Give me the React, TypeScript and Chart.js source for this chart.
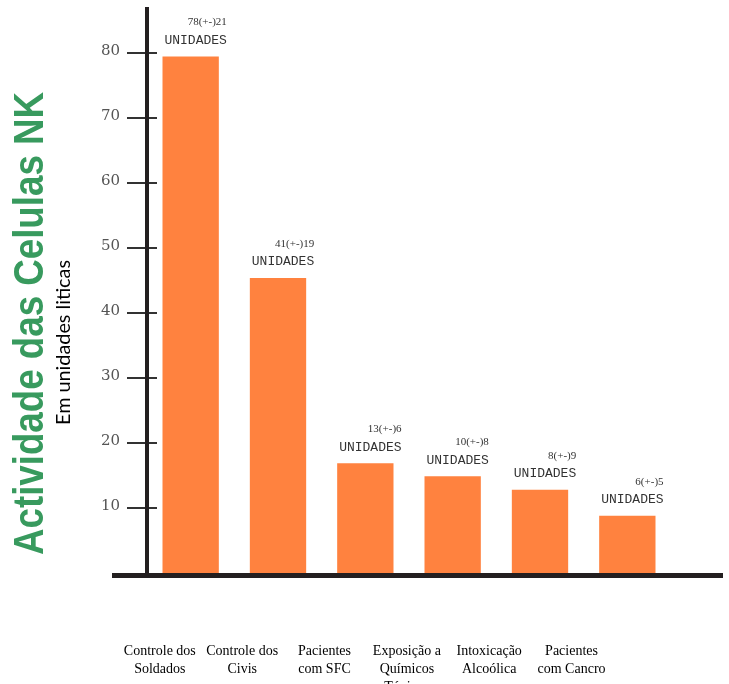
import React, { useEffect, useRef } from 'react';
import { Chart, registerables } from 'chart.js';

Chart.register(...registerables);

const categories = [
  'Controle dos Soldados',
  'Controle dos Civis',
  'Pacientes com SFC',
  'Exposição a Químicos Tóxicos',
  'Intoxicação Alcoólica',
  'Pacientes com Cancro',
];
const categoryLines = [
  ['Controle dos', 'Soldados'],
  ['Controle dos', 'Civis'],
  ['Pacientes', 'com SFC'],
  ['Exposição a', 'Químicos', 'Tóxicos'],
  ['Intoxicação', 'Alcoólica'],
  ['Pacientes', 'com Cancro'],
];
const values = [79.5, 45.4, 16.9, 14.9, 12.8, 8.8];
const valueLabels = ['78(+-)21', '41(+-)19', '13(+-)6', '10(+-)8', '8(+-)9', '6(+-)5'];
const unitLabel = 'UNIDADES';
const yTicks = [10, 20, 30, 40, 50, 60, 70, 80];
const titleText = 'Actividade das Celulas NK';
const subtitleText = 'Em unidades liticas';

const GREEN = '#389A5E';
const ORANGE = '#FF823F';
const AXIS = '#231F20';

const decor = {
  id: 'decor',
  afterDatasetsDraw(chart: any) {
    const ctx = chart.ctx as CanvasRenderingContext2D;
    const { left, top, bottom } = chart.chartArea;
    const y = chart.scales.y;
    ctx.save();
    // tick marks
    ctx.strokeStyle = '#333';
    ctx.lineWidth = 2;
    y.ticks.forEach((t: any) => {
      const py = Math.round(y.getPixelForValue(t.value));
      ctx.beginPath();
      ctx.moveTo(left - 20, py);
      ctx.lineTo(left + 10, py);
      ctx.stroke();
    });
    // axis lines
    ctx.strokeStyle = AXIS;
    ctx.lineWidth = 4;
    ctx.beginPath();
    ctx.moveTo(left, top);
    ctx.lineTo(left, bottom + 2);
    ctx.stroke();
    ctx.lineWidth = 5;
    ctx.beginPath();
    ctx.moveTo(left - 35, bottom + 2.5);
    ctx.lineTo(chart.width - 6, bottom + 2.5);
    ctx.stroke();

    // bar annotations
    const meta = chart.getDatasetMeta(0);
    meta.data.forEach((el: any, i: number) => {
      const cx = el.x + 5;
      ctx.fillStyle = '#333';
      ctx.textBaseline = 'middle';
      ctx.font = '13px "Liberation Mono", monospace';
      const uw = ctx.measureText(unitLabel).width;
      ctx.textAlign = 'center';
      ctx.fillText(unitLabel, cx, el.y - 16);
      ctx.font = '11px "Liberation Serif", serif';
      ctx.textAlign = 'right';
      ctx.fillText(valueLabels[i], cx + uw / 2, el.y - 34);
    });

    // rotated titles
    ctx.save();
    ctx.font = 'bold 42px "Liberation Sans", Arial, sans-serif';
    const tw = ctx.measureText(titleText).width;
    ctx.translate(43, 555);
    ctx.rotate(-Math.PI / 2);
    ctx.scale(463 / tw, 1);
    ctx.fillStyle = GREEN;
    ctx.textAlign = 'left';
    ctx.textBaseline = 'alphabetic';
    ctx.fillText(titleText, 0, 0);
    ctx.restore();

    ctx.save();
    ctx.font = '19px Lato, sans-serif';
    const sw = ctx.measureText(subtitleText).width;
    ctx.translate(70, 425);
    ctx.rotate(-Math.PI / 2);
    ctx.scale(165 / sw, 1);
    ctx.fillStyle = '#000';
    ctx.textAlign = 'left';
    ctx.textBaseline = 'alphabetic';
    ctx.fillText(subtitleText, 0, 0);
    ctx.restore();

    ctx.restore();
  },
};

export default function App() {
  const ref = useRef<HTMLCanvasElement | null>(null);
  useEffect(() => {
    if (!ref.current) return;
    const chart = new Chart(ref.current, {
      type: 'bar',
      data: {
        labels: categories,
        datasets: [
          {
            data: values,
            backgroundColor: ORANGE,
            borderWidth: 0,
            barPercentage: 0.645,
            categoryPercentage: 1,
          },
        ],
      },
      options: {
        animation: false,
        responsive: false,
        layout: { padding: { top: 7, right: 58, left: 0, bottom: 0 } },
        plugins: {
          legend: { display: false },
          tooltip: { enabled: false },
          title: { display: false },
        },
        scales: {
          x: { type: 'category', display: false, offset: true, grid: { display: false } },
          xl: {
            type: 'linear',
            position: 'bottom',
            offset: false,
            min: 0.844,
            max: 7.208,
            grid: { display: false, drawTicks: false, offset: false },
            border: { display: false },
            afterBuildTicks: (s: any) => {
              s.ticks = categories.map((_, i) => ({ value: i + 1 }));
            },
            afterFit: (s: any) => {
              s.height = 127;
              s.paddingLeft = 0;
              s.paddingRight = 0;
            },
            ticks: {
              padding: 69,
              autoSkip: false,
              maxRotation: 0,
              minRotation: 0,
              color: '#000',
              font: { family: '"Liberation Serif", serif', size: 14, lineHeight: 1.29 },
              callback: (_v: any, i: number) => categoryLines[i],
            },
          },
          y: {
            min: 0,
            max: 87.1,
            afterBuildTicks: (s: any) => {
              s.ticks = yTicks.map((v) => ({ value: v }));
            },
            afterFit: (s: any) => {
              s.width = 147;
              s.paddingTop = 0;
              s.paddingBottom = 0;
            },
            grid: { display: false, drawTicks: false },
            border: { display: false },
            ticks: {
              padding: 27,
              color: '#555',
              labelOffset: -2,
              font: { family: '"DejaVu Serif", serif', size: 15 },
            },
          },
        },
      } as any,
      plugins: [decor],
    });
    return () => chart.destroy();
  }, []);

  return (
    <div style={{ position: 'fixed', left: 0, top: 0, width: 729, height: 684, overflow: 'hidden', background: '#fff' }}>
      <canvas ref={ref} width={729} height={700} style={{ display: 'block' }} />
    </div>
  );
}
